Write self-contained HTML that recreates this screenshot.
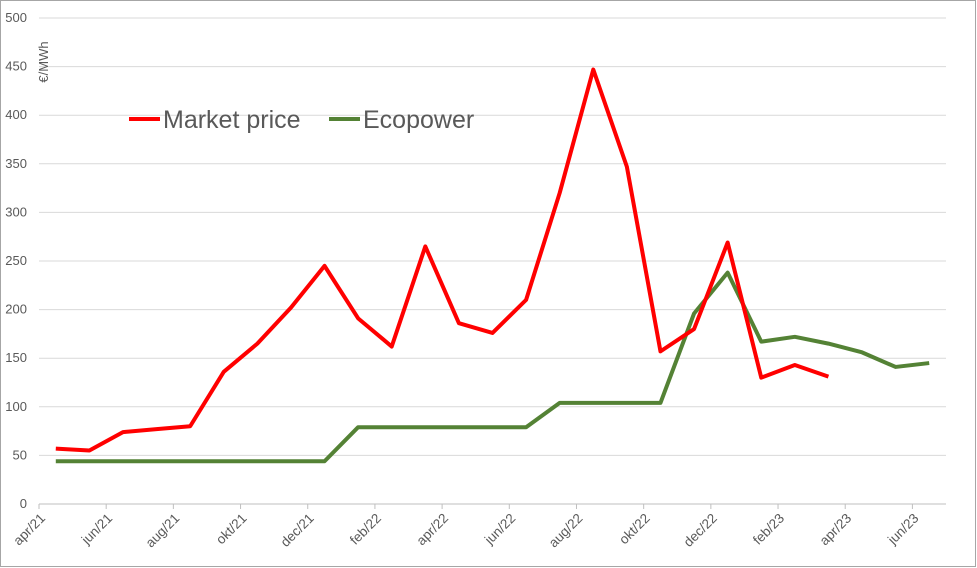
<!DOCTYPE html>
<html><head><meta charset="utf-8"><style>
body{margin:0;background:#fff}
svg{display:block;font-family:"Liberation Sans",Arial,sans-serif}
</style></head><body>
<svg id="c" width="977" height="568">
<rect x="0.5" y="0.5" width="975" height="566" fill="#fff" stroke="#a6a6a6"/>
<g id="grid"></g><g id="xl"></g><g id="yl"></g><g id="lines"></g>
<text x="48" y="62" font-size="13" fill="#595959" transform="rotate(-90 48 62)" text-anchor="middle">€/MWh</text>
<g>
<line x1="129" y1="119" x2="160" y2="119" stroke="#ff0000" stroke-width="4"/>
<text x="163" y="128" font-size="25" fill="#595959">Market price</text>
<line x1="329" y1="119" x2="360" y2="119" stroke="#548235" stroke-width="4"/>
<text x="363" y="128" font-size="25" fill="#595959">Ecopower</text>
</g>
</svg>
<script>
const months=["apr/21","mei/21","jun/21","jul/21","aug/21","sep/21","okt/21","nov/21","dec/21","jan/22","feb/22","mrt/22","apr/22","mei/22","jun/22","jul/22","aug/22","sep/22","okt/22","nov/22","dec/22","jan/23","feb/23","mrt/23","apr/23","mei/23","jun/23"];
const marketPrice=[57,55,74,77,80,136,165,202,245,191,162,265,186,176,210,320,447,347,157,180,269,130,143,131];
const ecopower=[44,44,44,44,44,44,44,44,44,79,79,79,79,79,79,104,104,104,104,196,238,167,172,165,156,141,145];
const yTicks=[0,50,100,150,200,250,300,350,400,450,500];
const L=39,R=946,T=18,B=504,NS="http://www.w3.org/2000/svg";
const step=(R-L)/months.length;
const x=i=>L+step*(i+0.5), y=v=>B-(v/500)*(B-T);
function mk(t,a,p){const e=document.createElementNS(NS,t);for(const k in a)e.setAttribute(k,a[k]);p.appendChild(e);return e;}
const g=document.getElementById('grid'),yl=document.getElementById('yl'),xl=document.getElementById('xl'),ln=document.getElementById('lines');
yTicks.forEach(v=>{const l=mk('line',{x1:L,x2:R,y1:y(v),y2:y(v),stroke:v?'#d9d9d9':'#bfbfbf'},g);


const t=mk('text',{x:27,y:y(v)+4,'text-anchor':'end','font-size':13,fill:'#595959'},yl);t.textContent=v;

});
months.forEach((m,i)=>{if(i%2)return;const tx=L+step*i;
const tk=mk('line',{x1:tx,x2:tx,y1:B,y2:B+5,stroke:'#bfbfbf'},g);


const t=mk('text',{x:tx+7,y:B+15,'text-anchor':'end','font-size':13.5,fill:'#595959',transform:`rotate(-45 ${tx+7} ${B+15})`},xl);t.textContent=m;

});
function line(d,c,n){const p=mk('polyline',{points:d.map((v,i)=>x(i)+','+y(v)).join(' '),fill:'none',stroke:c,'stroke-width':4,'stroke-linejoin':'round'},ln);

}
line(ecopower,'#548235','ecopower-line');
line(marketPrice,'#ff0000','market-price-line');
</script>
</body></html>
